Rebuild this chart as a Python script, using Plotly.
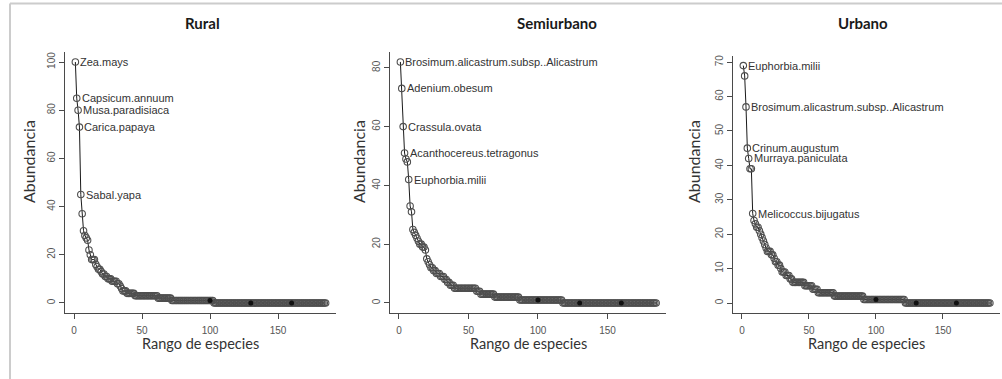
import plotly.graph_objects as go

# ---------------- data ----------------
panel_titles = ["Rural", "Semiurbano", "Urbano"]

rural = [100, 85, 80, 73, 45, 37, 30, 28, 27, 26,
         22, 20, 18, 18, 18, 16, 15, 14, 14, 13,
         12, 12, 11, 11, 10, 10, 10, 9, 9, 9,
         9, 8, 8, 7, 6, 5, 5, 5, 4, 4,
         4, 4, 4, 4, 3, 3, 3, 3, 3, 3,
         3, 3, 3, 3, 3, 3, 3, 3, 3, 3,
         3, 2, 2, 2, 2, 2, 2, 2, 2, 2,
         2, 1, 1, 1, 1, 1, 1, 1, 1, 1,
         1, 1, 1, 1, 1, 1, 1, 1, 1, 1,
         1, 1, 1, 1, 1, 1, 1, 1, 1, 1,
         1, 1, 0, 0, 0, 0, 0, 0, 0, 0,
         0, 0, 0, 0, 0, 0, 0, 0, 0, 0,
         0, 0, 0, 0, 0, 0, 0, 0, 0, 0,
         0, 0, 0, 0, 0, 0, 0, 0, 0, 0,
         0, 0, 0, 0, 0, 0, 0, 0, 0, 0,
         0, 0, 0, 0, 0, 0, 0, 0, 0, 0,
         0, 0, 0, 0, 0, 0, 0, 0, 0, 0,
         0, 0, 0, 0, 0, 0, 0, 0, 0, 0,
         0, 0, 0, 0, 0]

semiurbano = [82, 73, 60, 51, 49, 48, 42, 33, 31, 25,
              24, 23, 22, 21, 20, 20, 19, 19, 18, 15,
              14, 13, 12, 12, 11, 11, 10, 10, 10, 9,
              9, 9, 8, 8, 7, 7, 6, 6, 6, 5,
              5, 5, 5, 5, 5, 5, 5, 5, 5, 5,
              5, 5, 5, 5, 5, 4, 4, 4, 3, 3,
              3, 3, 3, 3, 3, 3, 3, 3, 2, 2,
              2, 2, 2, 2, 2, 2, 2, 2, 2, 2,
              2, 2, 2, 2, 2, 2, 1, 1, 1, 1,
              1, 1, 1, 1, 1, 1, 1, 1, 1, 1,
              1, 1, 1, 1, 1, 1, 1, 1, 1, 1,
              1, 1, 1, 1, 1, 1, 1, 0, 0, 0,
              0, 0, 0, 0, 0, 0, 0, 0, 0, 0,
              0, 0, 0, 0, 0, 0, 0, 0, 0, 0,
              0, 0, 0, 0, 0, 0, 0, 0, 0, 0,
              0, 0, 0, 0, 0, 0, 0, 0, 0, 0,
              0, 0, 0, 0, 0, 0, 0, 0, 0, 0,
              0, 0, 0, 0, 0, 0, 0, 0, 0, 0,
              0, 0, 0, 0, 0]

urbano = [69, 66, 57, 45, 42, 39, 39, 26, 24, 23,
          22, 22, 21, 20, 19, 18, 17, 16, 15, 15,
          15, 14, 14, 13, 12, 12, 11, 11, 10, 9,
          9, 9, 8, 8, 8, 7, 7, 6, 6, 6,
          6, 6, 6, 6, 6, 6, 5, 5, 5, 5,
          5, 5, 4, 4, 4, 4, 3, 3, 3, 3,
          3, 3, 3, 3, 3, 3, 3, 3, 2, 2,
          2, 2, 2, 2, 2, 2, 2, 2, 2, 2,
          2, 2, 2, 2, 2, 2, 2, 2, 2, 2,
          1, 1, 1, 1, 1, 1, 1, 1, 1, 1,
          1, 1, 1, 1, 1, 1, 1, 1, 1, 1,
          1, 1, 1, 1, 1, 1, 1, 1, 1, 1,
          1, 0, 0, 0, 0, 0, 0, 0, 0, 0,
          0, 0, 0, 0, 0, 0, 0, 0, 0, 0,
          0, 0, 0, 0, 0, 0, 0, 0, 0, 0,
          0, 0, 0, 0, 0, 0, 0, 0, 0, 0,
          0, 0, 0, 0, 0, 0, 0, 0, 0, 0,
          0, 0, 0, 0, 0, 0, 0, 0, 0, 0,
          0, 0, 0, 0, 0]

rural_label_ranks = [1, 2, 3, 4, 5]
rural_labels = ["Zea.mays", "Capsicum.annuum", "Musa.paradisiaca", "Carica.papaya", "Sabal.yapa"]
semi_label_ranks = [1, 2, 3, 4, 7]
semi_labels = ["Brosimum.alicastrum.subsp..Alicastrum", "Adenium.obesum", "Crassula.ovata",
               "Acanthocereus.tetragonus", "Euphorbia.milii"]
urb_label_ranks = [1, 3, 4, 5, 8]
urb_labels = ["Euphorbia.milii", "Brosimum.alicastrum.subsp..Alicastrum", "Crinum.augustum",
              "Murraya.paniculata", "Melicoccus.bijugatus"]

dot_ranks = [100, 130, 160]

x_ticks = [0, 50, 100, 150]
y_ticks = [[0, 20, 40, 60, 80, 100], [0, 20, 40, 60, 80], [0, 10, 20, 30, 40, 50, 60, 70]]

# ---------------- layout geometry (pixels) ----------------
W, H = 1002, 379
panels = [
    dict(data=rural, lr=rural_label_ranks, lt=rural_labels,
         px=(65.3, 335.7), py=(312.6, 52.4), yr=(-4, 104), title_x=202, ytitle_x=28),
    dict(data=semiurbano, lr=semi_label_ranks, lt=semi_labels,
         px=(390.1, 666.4), py=(312.6, 52.3), yr=(-3.28, 85.28), title_x=557, ytitle_x=358),
    dict(data=urbano, lr=urb_label_ranks, lt=urb_labels,
         px=(733.4, 999.8), py=(312.5, 56.1), yr=(-2.76, 71.76), title_x=863, ytitle_x=693),
]
x_range = [-6.4, 192.4]

fig = go.Figure()
annotations = []
axis_common = dict(showgrid=False, zeroline=False, showline=True, linecolor="#4a4a4a", linewidth=1,
                   ticks="outside", ticklen=5, tickcolor="#4a4a4a", tickwidth=1,
                   tickfont=dict(family="Liberation Sans", size=10, color="#555555"))

for i, p in enumerate(panels):
    k = "" if i == 0 else str(i + 1)
    xa, ya = "x" + k, "y" + k
    vals = p["data"]
    ranks = list(range(1, len(vals) + 1))
    # line
    fig.add_trace(go.Scatter(x=ranks, y=vals, mode="lines", xaxis=xa, yaxis=ya,
                             line=dict(color="#1a1a1a", width=1), showlegend=False, hoverinfo="skip"))
    # open circles
    fig.add_trace(go.Scatter(x=ranks, y=vals, mode="markers", xaxis=xa, yaxis=ya,
                             marker=dict(symbol="circle-open", size=6.5, color="#4f4f4f",
                                         line=dict(width=1.1, color="#4f4f4f")),
                             showlegend=False, hoverinfo="skip"))
    # black dots
    fig.add_trace(go.Scatter(x=dot_ranks, y=[vals[r - 1] for r in dot_ranks], mode="markers",
                             xaxis=xa, yaxis=ya, marker=dict(symbol="circle", size=5, color="#111111"),
                             showlegend=False, hoverinfo="skip"))
    # labels
    for r, t in zip(p["lr"], p["lt"]):
        annotations.append(dict(x=r, y=vals[r - 1], xref=xa, yref=ya, text=t, showarrow=False,
                                xanchor="left", yanchor="middle", xshift=3,
                                font=dict(family="Liberation Sans", size=11, color="#333333")))
    x0, x1 = p["px"]
    yb, yt = p["py"]
    fig.update_layout(**{
        "xaxis" + k: dict(domain=[x0 / W, x1 / W], range=x_range, anchor=ya,
                          tickvals=x_ticks, ticklabelstandoff=3, **axis_common),
        "yaxis" + k: dict(domain=[1 - yb / H, 1 - yt / H], range=list(p["yr"]), anchor=xa,
                          tickvals=y_ticks[i], tickangle=-90, **axis_common),
    })
    annotations.append(dict(x=p["title_x"] / W, y=1 - 23 / H, xref="paper", yref="paper",
                            text="<b>" + panel_titles[i] + "</b>", showarrow=False,
                            xanchor="center", yanchor="middle",
                            font=dict(family="Lato", size=15, color="#1a1a1a")))
    annotations.append(dict(x=p["ytitle_x"] / W, y=1 - 162 / H, xref="paper", yref="paper",
                            text="Abundancia", showarrow=False, textangle=-90,
                            xanchor="center", yanchor="middle",
                            font=dict(family="Lato", size=16, color="#333333")))
    annotations.append(dict(x=((x0 + x1) / 2) / W, y=1 - 343 / H, xref="paper", yref="paper",
                            text="Rango de especies", showarrow=False,
                            xanchor="center", yanchor="middle",
                            font=dict(family="Lato", size=14.5, color="#333333")))

shapes = [
    dict(type="line", xref="paper", yref="paper", x0=10 / W, x1=1, y0=1 - 3.5 / H, y1=1 - 3.5 / H,
         line=dict(color="#cccccc", width=2)),
    dict(type="line", xref="paper", yref="paper", x0=10 / W, x1=10 / W, y0=0, y1=1 - 3.5 / H,
         line=dict(color="#cccccc", width=2)),
]

fig.update_layout(width=W, height=H, autosize=False, margin=dict(l=0, r=0, t=0, b=0),
                  paper_bgcolor="white", plot_bgcolor="white",
                  annotations=annotations, shapes=shapes, showlegend=False)

fig.write_html("out.html")
